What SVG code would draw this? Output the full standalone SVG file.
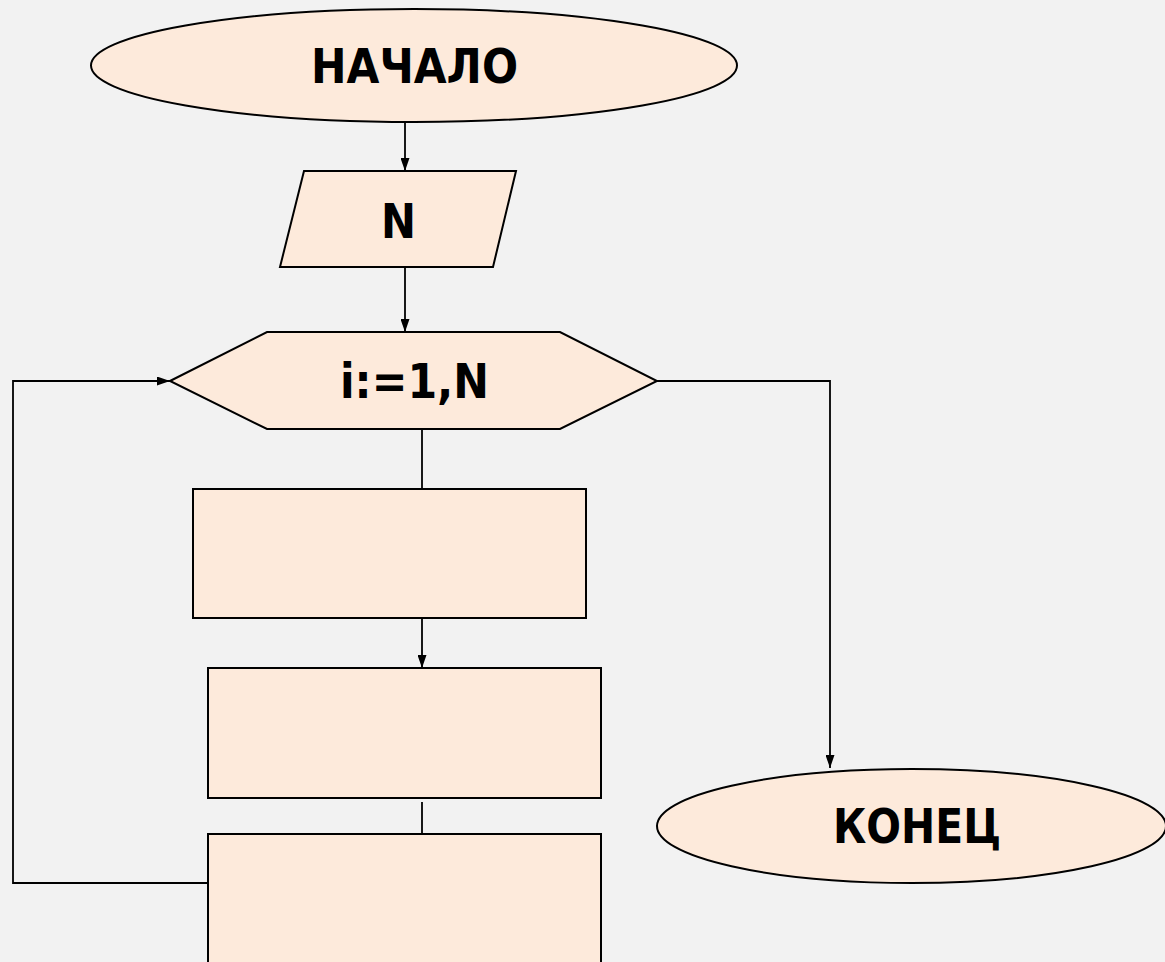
<svg xmlns="http://www.w3.org/2000/svg" width="1165" height="962" viewBox="0 0 1165 962">
  <style>
    .shape { fill: #fdeadb; stroke: #000; stroke-width: 2; }
    .link { fill: none; stroke: #000; stroke-width: 1.8; }
    .label { font-family: "DejaVu Sans", "Liberation Sans", sans-serif; font-weight: bold; font-size: 48px; fill: #000; text-anchor: middle; }
  </style>
  <defs>
    <marker id="arrow" viewBox="0 0 13 9" refX="13" refY="4.5" markerWidth="13" markerHeight="9" markerUnits="userSpaceOnUse" orient="auto">
      <path d="M0,0 L13,4.5 L0,9 Z" fill="#000"/>
    </marker>
  </defs>

  <rect width="1165" height="962" fill="#f2f2f2"/>

  <!-- connectors -->
  <g id="connectors">
    <line class="link" x1="405" y1="122" x2="405" y2="171" marker-end="url(#arrow)"/>
    <line class="link" x1="405" y1="268" x2="405" y2="332" marker-end="url(#arrow)"/>
    <line class="link" x1="422" y1="429" x2="422" y2="489"/>
    <line class="link" x1="422" y1="618" x2="422" y2="668" marker-end="url(#arrow)"/>
    <line class="link" x1="422" y1="802" x2="422" y2="834"/>
    <polyline class="link" points="657,381 830,381 830,768" marker-end="url(#arrow)"/>
    <polyline class="link" points="208,883 13,883 13,381 170,381" marker-end="url(#arrow)"/>
  </g>

  <!-- start -->
  <g id="start">
    <ellipse class="shape" cx="414" cy="65.5" rx="323" ry="56.5"/>
    <text class="label" x="414.5" y="83" textLength="207" lengthAdjust="spacingAndGlyphs">НАЧАЛО</text>
  </g>

  <!-- input N -->
  <g id="input">
    <polygon class="shape" points="304,171 516,171 493,267 280,267"/>
    <text class="label" x="398.5" y="238" textLength="35" lengthAdjust="spacingAndGlyphs">N</text>
  </g>

  <!-- loop header -->
  <g id="loop">
    <polygon class="shape" points="170,381 267,332 560,332 657,381 560,429 267,429"/>
    <text class="label" x="414.5" y="398" textLength="149" lengthAdjust="spacingAndGlyphs">i:=1,N</text>
  </g>

  <!-- loop body -->
  <g id="step1">
    <rect class="shape" x="193" y="489" width="393" height="129"/>
  </g>
  <g id="step2">
    <rect class="shape" x="208" y="668" width="393" height="130"/>
  </g>
  <g id="step3">
    <rect class="shape" x="208" y="834" width="393" height="140"/>
  </g>

  <!-- end -->
  <g id="end">
    <ellipse class="shape" cx="911.5" cy="826" rx="254.5" ry="57"/>
    <text class="label" x="917" y="843" textLength="168" lengthAdjust="spacingAndGlyphs">КОНЕЦ</text>
  </g>
</svg>
